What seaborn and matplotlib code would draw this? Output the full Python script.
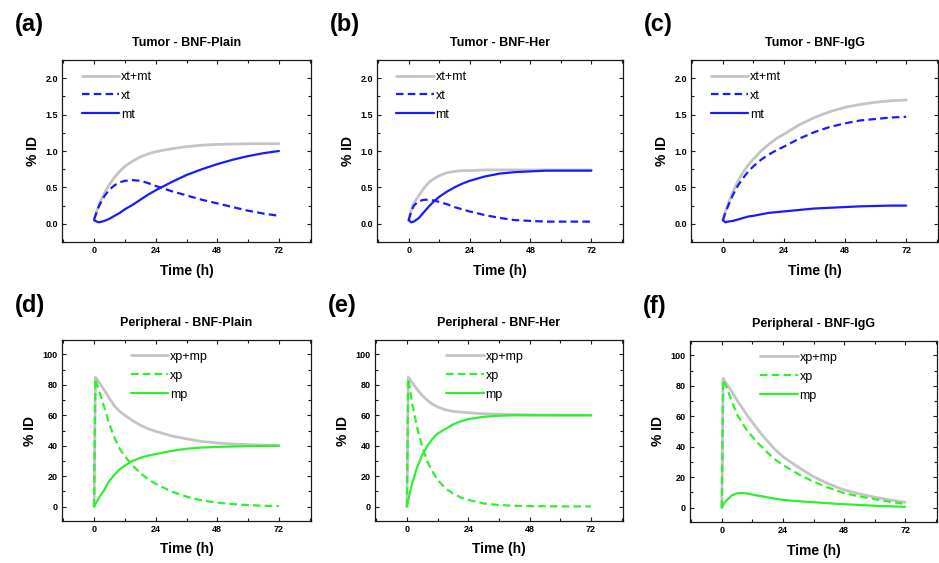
import matplotlib
matplotlib.use("Agg")
import matplotlib.pyplot as plt
import seaborn as sns
from matplotlib.ticker import MultipleLocator, FormatStrFormatter

# ---- time grids (h) ----
tumor_time = [0, 1, 2, 4, 6, 8, 10, 12, 15, 18, 21, 24, 30, 36, 42, 48, 54, 60, 66, 72]
periph_time = [0, 0.5, 1, 2, 4, 6, 8, 10, 12, 15, 18, 21, 24, 30, 36, 42, 48, 54, 60, 66, 72]

# ---- tumor compartment (% ID) ----
plain_total_t = [0.05, 0.17, 0.28, 0.42, 0.54, 0.64, 0.72, 0.79, 0.86, 0.92, 0.96, 0.99,
                 1.03, 1.06, 1.08, 1.09, 1.095, 1.10, 1.10, 1.10]
plain_xt = [0.06, 0.16, 0.25, 0.38, 0.47, 0.53, 0.57, 0.59, 0.60, 0.59, 0.56, 0.52,
            0.45, 0.39, 0.33, 0.28, 0.23, 0.18, 0.14, 0.11]
plain_mt = [0.05, 0.03, 0.02, 0.04, 0.07, 0.11, 0.15, 0.20, 0.26, 0.33, 0.40, 0.46,
            0.57, 0.67, 0.75, 0.82, 0.88, 0.93, 0.97, 1.00]

her_total_t = [0.05, 0.19, 0.28, 0.39, 0.49, 0.57, 0.62, 0.66, 0.70, 0.72, 0.73, 0.73,
               0.74, 0.74, 0.74, 0.74, 0.74, 0.74, 0.74, 0.74]
her_xt = [0.05, 0.17, 0.25, 0.31, 0.33, 0.33, 0.32, 0.30, 0.27, 0.23, 0.20, 0.17,
          0.12, 0.08, 0.05, 0.04, 0.03, 0.03, 0.03, 0.03]
her_mt = [0.05, 0.02, 0.03, 0.08, 0.16, 0.24, 0.31, 0.37, 0.44, 0.50, 0.55, 0.59,
          0.65, 0.69, 0.71, 0.72, 0.73, 0.73, 0.73, 0.73]

igg_total_t = [0.05, 0.17, 0.27, 0.44, 0.59, 0.71, 0.81, 0.89, 1.00, 1.09, 1.17, 1.23,
               1.36, 1.46, 1.54, 1.60, 1.64, 1.67, 1.69, 1.70]
igg_xt = [0.05, 0.15, 0.24, 0.40, 0.53, 0.63, 0.72, 0.79, 0.88, 0.95, 1.01, 1.06,
          1.17, 1.26, 1.33, 1.38, 1.42, 1.44, 1.46, 1.47]
igg_mt = [0.05, 0.02, 0.03, 0.04, 0.06, 0.08, 0.10, 0.11, 0.13, 0.15, 0.16, 0.17,
          0.19, 0.21, 0.22, 0.23, 0.24, 0.245, 0.25, 0.25]

# ---- peripheral compartment (% ID) ----
plain_total_p = [0, 85, 84, 81.5, 76.5, 71, 66, 62.5, 60, 56.5, 53.5, 51.2, 49.5,
                 46.5, 44.5, 42.8, 41.8, 41.1, 40.7, 40.3, 40]
plain_xp = [0, 84, 81, 76, 65, 54, 45, 38, 33, 27, 22, 18, 15,
            10, 6.5, 4, 2.6, 1.6, 1.0, 0.5, 0.3]
plain_mp = [0, 1.5, 3, 6, 11, 17, 21, 24.5, 27, 30, 32, 33.5, 34.5,
            36.5, 38, 38.8, 39.2, 39.5, 39.7, 39.8, 40]

her_total_p = [0, 85, 84, 81.5, 77, 73, 69.8, 67.3, 65.5, 63.6, 62.6, 62.1, 61.7,
               61, 60.7, 60.5, 60.3, 60.2, 60.1, 60.1, 60.1]
her_xp = [0, 84, 79, 68, 52, 39, 29.5, 23, 17.5, 12, 8.7, 6, 4.4,
          2, 1, 0.5, 0.3, 0.2, 0.1, 0.1, 0.1]
her_mp = [0, 4, 8, 15, 26, 34, 40, 44.5, 48, 51, 54, 56, 57.5,
          59, 59.7, 60, 60, 60, 60, 60, 60]

igg_total_p = [0, 85, 83.5, 81, 76, 70.5, 65.5, 60.5, 56, 49.5, 43.5, 38, 33.4,
               26.5, 20.3, 15.5, 11.6, 9, 6.8, 5, 3.5]
igg_xp = [0, 84, 82, 78.5, 69.5, 61, 55.5, 50.5, 46.5, 41, 36, 31.5, 28,
          22, 17, 13, 9.5, 7.3, 5.5, 3.8, 2.4]
igg_mp = [0, 1.5, 3, 5, 8, 9.4, 9.6, 9.2, 8.5, 7.6, 6.7, 5.8, 5,
          4.2, 3.5, 2.8, 2.2, 1.7, 1.2, 0.8, 0.5]

tumor_titles = ["Tumor - BNF-Plain", "Tumor - BNF-Her", "Tumor - BNF-IgG"]
periph_titles = ["Peripheral - BNF-Plain", "Peripheral - BNF-Her", "Peripheral - BNF-IgG"]
panel_tags = ["(a)", "(b)", "(c)", "(d)", "(e)", "(f)"]
tumor_labels = ["xt+mt", "xt", "mt"]
periph_labels = ["xp+mp", "xp", "mp"]
x_ticks = [0, 24, 48, 72]

sns.set_theme(style="ticks")
plt.rcParams["font.family"] = ["Liberation Sans", "DejaVu Sans"]
plt.rcParams.update({
    "text.color": "black", "axes.labelcolor": "black",
    "xtick.labelcolor": "black", "ytick.labelcolor": "black",
    "xtick.direction": "in", "ytick.direction": "in",
    "xtick.top": True, "ytick.right": True,
    "xtick.major.size": 3, "ytick.major.size": 3,
    "xtick.minor.size": 2.5, "ytick.minor.size": 2.5,
    "xtick.major.width": 0.8, "ytick.major.width": 0.8,
    "xtick.minor.width": 0.8, "ytick.minor.width": 0.8,
    "xtick.minor.visible": True, "ytick.minor.visible": True,
    "axes.edgecolor": "#1a1a1a", "axes.linewidth": 0.9,
    "xtick.color": "#1a1a1a", "ytick.color": "#1a1a1a",
})

GRAY = "#c4c4c4"
BLUE = "#1a1aff"
GREEN = "#2ef02e"
DASH = (0, (3.4, 1.9))

fig = plt.figure(figsize=(9.39, 5.63), dpi=100)

W, H = 939, 563
# axes boxes in pixels: left, top, right, bottom
boxes = [
    (62, 60, 311, 242), (377, 60, 623, 242), (691, 60, 938, 242),
    (62, 340, 311, 521), (375, 340, 623, 521), (690, 341, 937, 522),
]
legend_x = [0.08, 0.078, 0.08, 0.277, 0.287, 0.284]

panels = [
    (tumor_time, plain_total_t, plain_xt, plain_mt, BLUE, tumor_titles[0], tumor_labels),
    (tumor_time, her_total_t, her_xt, her_mt, BLUE, tumor_titles[1], tumor_labels),
    (tumor_time, igg_total_t, igg_xt, igg_mt, BLUE, tumor_titles[2], tumor_labels),
    (periph_time, plain_total_p, plain_xp, plain_mp, GREEN, periph_titles[0], periph_labels),
    (periph_time, her_total_p, her_xp, her_mp, GREEN, periph_titles[1], periph_labels),
    (periph_time, igg_total_p, igg_xp, igg_mp, GREEN, periph_titles[2], periph_labels),
]

for i, (t, total, free, bound, col, title, labels) in enumerate(panels):
    l, tp, r, b = boxes[i]
    ax = fig.add_axes([l / W, 1 - b / H, (r - l) / W, (b - tp) / H])
    sns.lineplot(x=t, y=total, ax=ax, color=GRAY, linewidth=2.0, label=labels[0],
                 sort=False, errorbar=None)
    sns.lineplot(x=t, y=free, ax=ax, color=col, linewidth=1.6, linestyle=DASH,
                 label=labels[1], sort=False, errorbar=None)
    sns.lineplot(x=t, y=bound, ax=ax, color=col, linewidth=1.6, label=labels[2],
                 sort=False, errorbar=None)

    ax.set_xlim(-12.5, 84.5)
    ax.set_xticks(x_ticks)
    ax.xaxis.set_minor_locator(MultipleLocator(12))
    if i < 3:
        ax.set_ylim(-0.25, 2.25)
        ax.set_yticks([0.0, 0.5, 1.0, 1.5, 2.0])
        ax.yaxis.set_minor_locator(MultipleLocator(0.25))
        ax.yaxis.set_major_formatter(FormatStrFormatter("%.1f"))
    else:
        ax.set_ylim(-9.5, 109.5)
        ax.set_yticks([0, 20, 40, 60, 80, 100])
        ax.yaxis.set_minor_locator(MultipleLocator(10))
    ax.tick_params(which="both", labelsize=6.5, pad=3)
    for lab in ax.get_xticklabels() + ax.get_yticklabels():
        lab.set_fontweight("bold")

    ax.set_title(title, fontsize=9, fontweight="bold", pad=10)
    ax.set_xlabel("Time (h)", fontsize=10, fontweight="bold", labelpad=6)
    ax.set_ylabel("% ID", fontsize=10, fontweight="bold", labelpad=4)

    ax.legend(loc="upper left", bbox_to_anchor=(legend_x[i], 0.94), frameon=False,
              fontsize=9, handlelength=3.0, handletextpad=0.15, labelspacing=0.55,
              borderpad=0, borderaxespad=0)

    fig.text((l - 47) / W, 1 - (tp - 35) / H, panel_tags[i], fontsize=17,
             fontweight="bold", ha="left", va="center")

fig.savefig("out.png", dpi=100)
